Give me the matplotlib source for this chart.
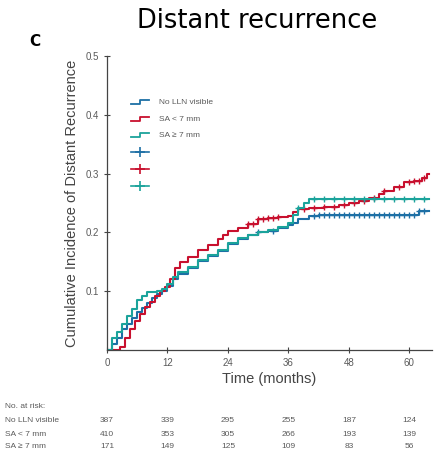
import numpy as np
import matplotlib
matplotlib.use("Agg")
import matplotlib.pyplot as plt

# cumulative incidence curves (months, fraction)
blue_t = [0, 1, 2, 3, 4, 5, 6, 7, 8, 9, 10, 11, 12, 13, 14, 16, 18, 20, 22, 24,
          26, 28, 30, 32, 34, 36, 37, 38, 40, 42, 62, 64]
blue_v = [0, 0.01, 0.02, 0.035, 0.045, 0.055, 0.065, 0.072, 0.08, 0.088, 0.095, 0.1,
          0.108, 0.12, 0.13, 0.14, 0.152, 0.16, 0.168, 0.18, 0.188, 0.195, 0.2, 0.203,
          0.208, 0.212, 0.216, 0.222, 0.228, 0.23, 0.236, 0.236]

teal_t = [0, 1, 2, 3, 4, 5, 6, 7, 8, 10, 11, 12, 13, 14, 16, 18, 20, 22, 24, 26,
          28, 30, 32, 34, 36, 37, 38, 39, 40, 64]
teal_v = [0, 0.02, 0.03, 0.045, 0.058, 0.07, 0.085, 0.092, 0.099, 0.1, 0.104, 0.112,
          0.124, 0.132, 0.142, 0.153, 0.162, 0.17, 0.182, 0.19, 0.196, 0.2, 0.204,
          0.21, 0.216, 0.23, 0.242, 0.25, 0.256, 0.256]

red_t = [0, 2.5, 3.5, 4.5, 5.5, 6.5, 7.5, 8.5, 9.5, 10.5, 11.5, 12.5, 13.5, 14.5,
         16, 18, 20, 22, 23, 24, 26, 28, 30, 32, 34, 36, 37, 38, 40, 43, 46, 48, 50,
         52, 54, 55, 57, 59, 61, 62.5, 63.5, 64]
red_v = [0, 0.005, 0.02, 0.035, 0.05, 0.062, 0.073, 0.082, 0.092, 0.1, 0.107, 0.12,
         0.14, 0.15, 0.158, 0.17, 0.178, 0.188, 0.196, 0.203, 0.208, 0.215, 0.222,
         0.224, 0.227, 0.228, 0.234, 0.239, 0.242, 0.244, 0.247, 0.25, 0.254, 0.259,
         0.265, 0.27, 0.278, 0.285, 0.288, 0.293, 0.299, 0.299]

# censoring times
blue_cens = [30, 33, 41, 42, 43, 44, 45, 46, 47, 48, 49, 50, 51, 52, 53, 54, 55,
             56, 57, 58, 59, 60, 61, 62, 63]
teal_cens = [38, 41, 43, 45, 47, 49, 51, 53, 55, 57, 59, 61, 63]
red_cens = [28, 29, 30, 31, 32, 33, 34, 39, 41, 43, 45, 47, 49, 51, 53, 55, 58,
            60, 61, 62, 63]

labels = ["No LLN visible", "SA < 7 mm", "SA \u2265 7 mm"]
colors = ["#1d6fa5", "#c8102e", "#1ba39b"]

risk_times = [0, 12, 24, 36, 48, 60]
risk_blue = [387, 339, 295, 255, 187, 124]
risk_red = [410, 353, 305, 266, 193, 139]
risk_teal = [171, 149, 125, 109, 83, 56]

plt.rcParams['font.family'] = ['Liberation Sans', 'DejaVu Sans']
gray = "#5a5a5a"

fig = plt.figure(figsize=(4.38, 4.59), dpi=100)
ax = fig.add_axes([107 / 438, 1 - 350 / 459, 325 / 438, 294 / 459])

curves = [(blue_t, blue_v, blue_cens), (red_t, red_v, red_cens), (teal_t, teal_v, teal_cens)]
for (t, v, cens), c in zip(curves, colors):
    ax.plot(t, v, drawstyle="steps-post", color=c, lw=1.5)
    idx = np.searchsorted(t, cens, side="right") - 1
    ax.plot(cens, np.array(v)[idx], "+", color=c, ms=4, mew=1)

ax.set_xlim(0, 64.5)
ax.set_ylim(0, 0.5)
ax.set_xticks(risk_times)
ax.set_yticks([0.1, 0.2, 0.3, 0.4, 0.5])
ax.set_yticklabels(["0.1", "0.2", "0.3", "0.4", "0.5"])
ax.spines["top"].set_visible(False)
ax.spines["right"].set_visible(False)
for s in ["left", "bottom"]:
    ax.spines[s].set_color("#444444")
    ax.spines[s].set_linewidth(0.9)
ax.tick_params(axis="both", direction="inout", length=5, width=0.8, colors="#444444",
               labelsize=7, labelcolor=gray, pad=3)
ax.set_xlabel("Time (months)", fontsize=10.5, color="#444444", labelpad=3)
ax.set_ylabel("Cumulative Incidence of Distant Recurrence", fontsize=10.5,
              color="#444444", labelpad=5)

# legend drawn by hand with step glyphs
def fx(px):
    return (px - 107) / 325

def fy(py):
    return (350 - py) / 294

rows = [102, 119, 135]
for lab, c, py in zip(labels, colors, rows):
    gx = [fx(131), fx(140), fx(140), fx(149)]
    gy = [fy(py + 2), fy(py + 2), fy(py - 2), fy(py - 2)]
    ax.plot(gx, gy, color=c, lw=1.3, transform=ax.transAxes, clip_on=False)
    ax.text(fx(159), fy(py), lab, transform=ax.transAxes, fontsize=6,
            color=gray, va="center")
for c, py in zip(colors, [152, 169, 186]):
    ax.plot([fx(131), fx(149)], [fy(py), fy(py)], color=c, lw=1.2, transform=ax.transAxes)
    ax.plot([fx(140)], [fy(py)], "+", color=c, ms=7, mew=1.2, transform=ax.transAxes)

fig.text(257 / 438, 1 - 21 / 459, "Distant recurrence", fontsize=18.5, ha="center",
         va="center", family=["DejaVu Sans"])
fig.text(35 / 438, 1 - 42 / 459, "C", fontsize=11, fontweight="bold", ha="center",
         va="center", family=["DejaVu Sans"])

# number at risk table
fig.text(5 / 438, 1 - 407 / 459, "No. at risk:", fontsize=6, color=gray, va="center")
for name, counts, py in zip(labels, [risk_blue, risk_red, risk_teal], [421, 434, 446]):
    fig.text(5 / 438, 1 - py / 459, name, fontsize=6, color=gray, va="center")
    for t, n in zip(risk_times, counts):
        x = ax.transData.transform((t, 0))[0] / fig.bbox.width
        fig.text(x, 1 - py / 459, str(n), fontsize=6, color=gray, va="center", ha="center")

fig.savefig("out.png", dpi=100)
